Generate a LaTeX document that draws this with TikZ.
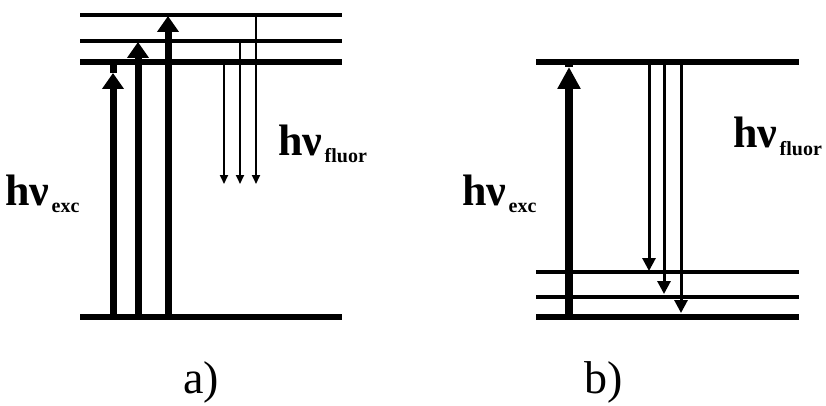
\documentclass[tikz,border=0pt]{standalone}
\usepackage{fontspec}
\setmainfont{Liberation Serif}
\usetikzlibrary{arrows.meta}
\begin{document}
\begin{tikzpicture}[x=1pt,y=-1pt,
  lvthin/.style={line width=4pt},
  lvthick/.style={line width=6.5pt},
  exca/.style={line width=7pt,-{Triangle[length=16pt,width=21pt]}},
  excb/.style={line width=8pt,-{Triangle[length=22pt,width=22pt]}},
  shaft/.style={line width=7pt},
  fla/.style={line width=2pt,-{Triangle[length=9pt,width=8pt]}},
  flb/.style={line width=3pt,-{Triangle[length=13pt,width=13pt]}},
  big/.style={font=\fontsize{44}{44}\selectfont\bfseries, inner sep=0pt, anchor=base west},
  sub/.style={font=\fontsize{20}{20}\selectfont\bfseries, inner sep=0pt, anchor=base west},
  captxt/.style={font=\fontsize{46}{46}\selectfont, inner sep=0pt, anchor=base}]
\useasboundingbox (0,0) rectangle (826,406);
% ---------- a) ----------
\coordinate (aL1l) at (80,15);  \coordinate (aL1r) at (342,15);
\coordinate (aL2l) at (80,41);  \coordinate (aL2r) at (342,41);
\coordinate (aL3l) at (80,62);  \coordinate (aL3r) at (342,62);
\coordinate (aGl) at (80,317);  \coordinate (aGr) at (342,317);
\draw[lvthin] (aL1l) -- (aL1r);
\draw[lvthin] (aL2l) -- (aL2r);
\draw[lvthick] (aL3l) -- (aL3r);
\draw[lvthick] (aGl) -- (aGr);
% excitation
\coordinate (e1b) at (113,317); \coordinate (e1t) at (113,73); \coordinate (e1l) at (113,62);
\coordinate (e2b) at (138,317); \coordinate (e2t) at (138,42);
\coordinate (e3b) at (168,317); \coordinate (e3t) at (168,16);
\draw[shaft] (e1t) -- (e1l);
\draw[exca] (e1b) -- (e1t);
\draw[exca] (e2b) -- (e2t);
\draw[exca] (e3b) -- (e3t);
% fluorescence
\coordinate (f1t) at (224,62); \coordinate (f1b) at (224,184);
\coordinate (f2t) at (240,41); \coordinate (f2b) at (240,184);
\coordinate (f3t) at (256,15); \coordinate (f3b) at (256,184);
\draw[fla] (f1t) -- (f1b);
\draw[fla] (f2t) -- (f2b);
\draw[fla] (f3t) -- (f3b);
% labels
\node[big] (ahv) at (5,205) {hν};
\node[sub] (aexc) at ([xshift=2pt,yshift=-7pt]ahv.base east) {exc};
\node[big] (ahvf) at (278,156) {hν};
\node[sub] (afl) at ([xshift=2pt,yshift=-6pt]ahvf.base east) {fluor};
\node[captxt] (capa) at (201,393) {a)};
% ---------- b) ----------
\coordinate (bL1l) at (536,62);  \coordinate (bL1r) at (799,62);
\coordinate (bL2l) at (536,272); \coordinate (bL2r) at (799,272);
\coordinate (bL3l) at (536,297); \coordinate (bL3r) at (799,297);
\coordinate (bGl) at (536,317);  \coordinate (bGr) at (799,317);
\draw[lvthick] (bL1l) -- (bL1r);
\draw[line width=4.5pt] (bL2l) -- (bL2r);
\draw[line width=4.5pt] (bL3l) -- (bL3r);
\draw[lvthick] (bGl) -- (bGr);
\coordinate (be_b) at (569,317); \coordinate (be_t) at (569,67); \coordinate (be_l) at (569,62);
\draw[line width=8pt] (be_t) -- (be_l);
\draw[excb] (be_b) -- (be_t);
\coordinate (g1t) at (649,62); \coordinate (g1b) at (649,271);
\coordinate (g2t) at (664,62); \coordinate (g2b) at (664,294);
\coordinate (g3t) at (681,62); \coordinate (g3b) at (681,313);
\draw[flb] (g1t) -- (g1b);
\draw[flb] (g2t) -- (g2b);
\draw[flb] (g3t) -- (g3b);
\node[big] (bhv) at (462,205) {hν};
\node[sub] (bexc) at ([xshift=2pt,yshift=-7pt]bhv.base east) {exc};
\node[big] (bhvf) at (733,148) {hν};
\node[sub] (bfl) at ([xshift=2pt,yshift=-8pt]bhvf.base east) {fluor};
\node[captxt] (capb) at (604,393) {b)};
\end{tikzpicture}
\end{document}
